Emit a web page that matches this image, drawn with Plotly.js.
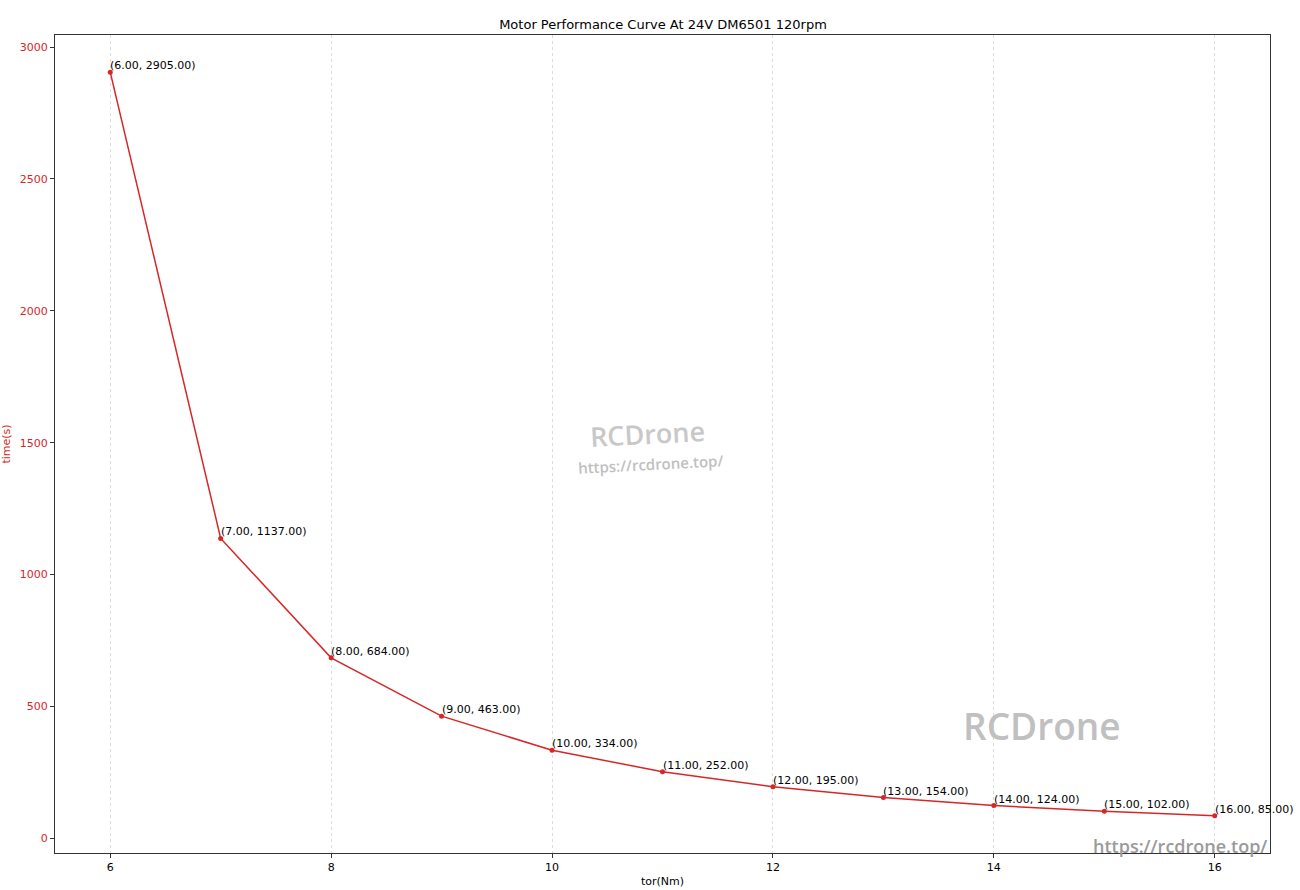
<!DOCTYPE html>
<html><head><meta charset="utf-8">
<script src="https://cdn.plot.ly/plotly-3.0.1.min.js"></script>
<style>body{margin:0;background:#fff}#c{width:1300px;height:890px}</style>
</head><body><div id="c"></div>
<script>
const torque = [6, 7, 8, 9, 10, 11, 12, 13, 14, 15, 16];
const timeS = [2905, 1137, 684, 463, 334, 252, 195, 154, 124, 102, 85];
const xTicks = [6, 8, 10, 12, 14, 16];
const yTicks = [0, 500, 1000, 1500, 2000, 2500, 3000];
const red = '#d62728';
const font = 'DejaVu Sans, sans-serif';

const labels = torque.map((x, i) => ({
  x: x, y: timeS[i], xref: 'x', yref: 'y',
  text: '(' + x.toFixed(2) + ', ' + timeS[i].toFixed(2) + ')',
  showarrow: false, xanchor: 'left', yanchor: 'bottom', xshift: -2, yshift: -2,
  font: {family: font, size: 11, color: '#000'}
}));

const marks = [
  {text: 'RCDrone', x: 0.488, y: 0.513, size: 27, color: '#c8c8c8', angle: -3, w: 600},
  {text: 'https://rcdrone.top/', x: 0.490, y: 0.475, size: 15, color: '#c0c0c0', angle: -3, w: 600},
  {text: 'RCDrone', x: 0.812, y: 0.156, size: 37, color: '#c0c0c0', angle: 0, w: 600},
  {text: 'https://rcdrone.top/', x: 0.926, y: 0.009, size: 18, color: '#9a9a9a', angle: 0, w: 600}
].map(m => ({
  xref: 'paper', yref: 'paper', x: m.x, y: m.y, text: m.text, showarrow: false,
  xanchor: 'center', yanchor: 'middle',
  textangle: m.angle, font: {family: 'Open Sans, sans-serif', size: m.size, color: m.color, weight: m.w}
}));

Plotly.newPlot('c', [{
  x: torque, y: timeS, type: 'scatter', mode: 'lines+markers',
  line: {color: red, width: 1.5}, marker: {color: red, size: 5}
}], {
  width: 1300, height: 890,
  margin: {l: 55, r: 30, t: 35, b: 37},
  paper_bgcolor: '#fff', plot_bgcolor: '#fff',
  showlegend: false,
  title: {text: 'Motor Performance Curve At 24V DM6501 120rpm', x: 0.51, xanchor: 'center', y: 0.978, yanchor: 'top',
          font: {family: font, size: 13, color: '#000'}},
  xaxis: {range: [5.5, 16.5], tickvals: xTicks, ticktext: xTicks.map(String),
          ticks: 'outside', ticklen: 4, tickcolor: '#333', showline: true, mirror: true, linecolor: '#333', linewidth: 1,
          showgrid: true, gridcolor: '#dcdcdc', griddash: 'dot', gridwidth: 1, zeroline: false,
          tickfont: {family: font, size: 11, color: '#000'},
          title: {text: 'tor(Nm)', standoff: 4, font: {family: font, size: 11, color: '#000'}}},
  yaxis: {range: [-56, 3046], tickvals: yTicks, ticktext: yTicks.map(String),
          ticks: 'outside', ticklen: 4, tickcolor: '#333', showline: true, mirror: true, linecolor: '#333', linewidth: 1,
          showgrid: false, zeroline: false,
          tickfont: {family: font, size: 11, color: red},
          title: {text: 'time(s)', standoff: 8, font: {family: font, size: 11, color: red}}},
  annotations: labels.concat(marks)
}, {displayModeBar: false, staticPlot: true});
</script></body></html>
